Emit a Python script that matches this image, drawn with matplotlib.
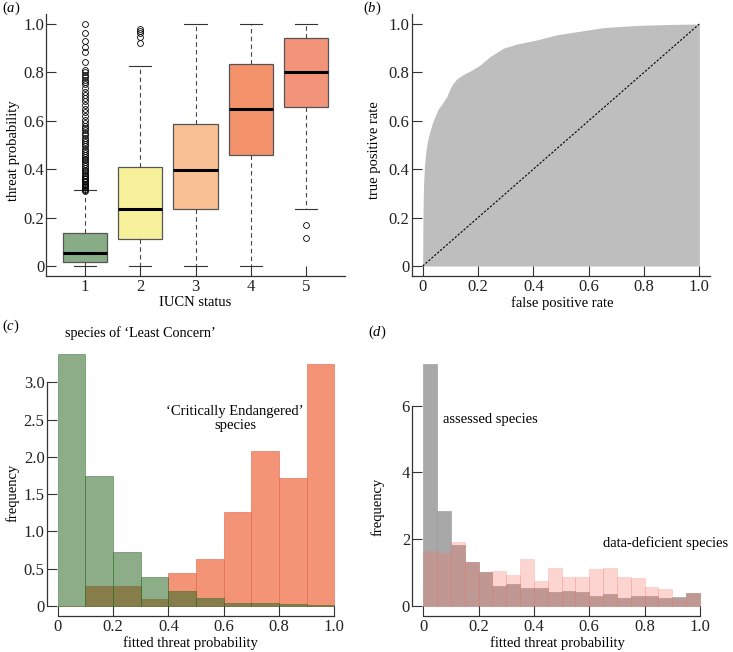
import matplotlib
matplotlib.use("Agg")
import matplotlib.pyplot as plt
import numpy as np

plt.rcParams['font.family'] = ['Liberation Serif', 'DejaVu Serif']
plt.rcParams['mathtext.fontset'] = 'custom'
plt.rcParams['mathtext.rm'] = 'Liberation Serif'
plt.rcParams['mathtext.it'] = 'Liberation Serif:italic'

# (a) boxplot summaries by IUCN status
status = [1, 2, 3, 4, 5]
q1 = [0.018, 0.112, 0.234, 0.460, 0.657]
med = [0.052, 0.234, 0.395, 0.649, 0.803]
q3 = [0.135, 0.408, 0.588, 0.835, 0.944]
whis_lo = [0.0, 0.0, 0.0, 0.0, 0.234]
whis_hi = [0.314, 0.825, 1.0, 1.0, 1.0]
fliers = [
    [0.312, 0.316, 0.320, 0.325, 0.330, 0.335, 0.340, 0.346, 0.352, 0.358,
     0.364, 0.370, 0.377, 0.384, 0.391, 0.398, 0.405, 0.412, 0.420, 0.428,
     0.436, 0.444, 0.452, 0.460, 0.468, 0.476, 0.485, 0.494, 0.503, 0.512,
     0.521, 0.530, 0.540, 0.550, 0.560, 0.570, 0.580, 0.590, 0.605, 0.620,
     0.635, 0.650, 0.665, 0.680, 0.695, 0.705, 0.720, 0.735, 0.750, 0.760,
     0.770, 0.780, 0.790, 0.800, 0.810, 0.844, 0.886, 0.906, 0.931, 0.961, 1.0],
    [0.920, 0.945, 0.964, 0.971, 0.978],
    [],
    [],
    [0.168, 0.114],
]
box_colors = ['#88ad86', '#f8f19c', '#f9c093', '#f2916a', '#f29479']

# (b) ROC curve
fpr = [0, 0.001, 0.003, 0.006, 0.010, 0.015, 0.020, 0.027, 0.035, 0.045,
       0.057, 0.070, 0.087, 0.100, 0.110, 0.125, 0.145, 0.171, 0.207, 0.243,
       0.292, 0.340, 0.412, 0.484, 0.557, 0.653, 0.773, 0.894, 1.0]
tpr = [0, 0.20, 0.33, 0.40, 0.46, 0.50, 0.53, 0.56, 0.59, 0.62,
       0.65, 0.67, 0.70, 0.735, 0.755, 0.775, 0.79, 0.805, 0.83, 0.865,
       0.90, 0.917, 0.934, 0.955, 0.968, 0.985, 0.994, 0.998, 1.0]

# (c) histograms, bin width 0.1
c_left = [0.0, 0.1, 0.2, 0.3, 0.4, 0.5, 0.6, 0.7, 0.8, 0.9]
least_concern = [3.375, 1.743, 0.724, 0.389, 0.201, 0.112, 0.040, 0.040, 0.022, 0.013]
crit_endangered = [0.0, 0.273, 0.273, 0.089, 0.447, 0.630, 1.265, 2.074, 1.717, 3.250]

# (d) histograms, bin width 0.05
d_left = [0.00, 0.05, 0.10, 0.15, 0.20, 0.25, 0.30, 0.35, 0.40, 0.45,
          0.50, 0.55, 0.60, 0.65, 0.70, 0.75, 0.80, 0.85, 0.90, 0.95]
assessed = [7.26, 2.835, 1.83, 1.33, 1.02, 0.59, 0.66, 0.55, 0.53, 0.42,
            0.45, 0.41, 0.29, 0.35, 0.24, 0.31, 0.30, 0.23, 0.26, 0.39]
deficient = [1.66, 1.60, 1.91, 1.31, 1.02, 1.04, 0.92, 1.41, 0.76, 1.13,
             0.88, 0.88, 1.12, 1.13, 0.87, 0.84, 0.58, 0.51, 0.21, 0.40]

W, H = 733, 652
fig = plt.figure(figsize=(W / 100, H / 100), dpi=100)


def add_ax(l, t, r, b):
    return fig.add_axes([l / W, 1 - b / H, (r - l) / W, (b - t) / H])


def style(ax):
    for s in ['top', 'right']:
        ax.spines[s].set_visible(False)
    for s in ['left', 'bottom']:
        ax.spines[s].set_color('#333333')
        ax.spines[s].set_linewidth(0.9)
    ax.tick_params(direction='in', length=7, width=0.8, color='#333333',
                   labelsize=12, labelcolor='#222222')
    ax.tick_params(axis='x', pad=2.5)
    ax.tick_params(axis='y', pad=1.5)


unit_ticks = [0, 0.2, 0.4, 0.6, 0.8, 1.0]
unit_labels = ['0', '0.2', '0.4', '0.6', '0.8', '1.0']
LS = 10.5

# ---- (a)
ax1 = add_ax(46.3, 14.3, 344.7, 275.7)
stats = []
for i in range(len(status)):
    stats.append(dict(med=med[i], q1=q1[i], q3=q3[i], whislo=whis_lo[i],
                      whishi=whis_hi[i], fliers=fliers[i]))
bp = ax1.bxp(stats, positions=status, widths=0.8, capwidths=0.4, patch_artist=True,
             boxprops=dict(edgecolor='#555555', linewidth=0.9),
             medianprops=dict(color='black', linewidth=2.2, solid_capstyle='butt'),
             whiskerprops=dict(color='#444444', linewidth=0.8, linestyle=(0, (4, 3))),
             capprops=dict(color='#333333', linewidth=0.8),
             flierprops=dict(marker='o', markerfacecolor='none', markeredgecolor='black',
                             markersize=4.2, markeredgewidth=0.6))
for patch, c in zip(bp['boxes'], box_colors):
    patch.set_facecolor(c)
ax1.set_xlim(0.3, 5.7)
ax1.set_ylim(-0.04, 1.04)
style(ax1)
ax1.set_xticks(status, [str(s) for s in status])
ax1.set_yticks(unit_ticks, unit_labels)
ax1.set_xlabel('IUCN status', fontsize=LS)
ax1.set_ylabel('threat probability', fontsize=LS)
ax1.xaxis.set_label_coords(0.5, -0.078)
ax1.yaxis.set_label_coords(-0.088, 0.48)

# ---- (b)
ax2 = add_ax(411.6, 14.3, 710.4, 275.7)
ax2.fill_between(fpr, tpr, 0, color='#bebebe', linewidth=0)
ax2.plot([0, 1], [0, 1], color='black', linewidth=0.8, linestyle=(0, (2, 1.5)))
ax2.set_xlim(-0.04, 1.04)
ax2.set_ylim(-0.04, 1.04)
style(ax2)
ax2.set_xticks(unit_ticks, unit_labels)
ax2.set_yticks(unit_ticks, unit_labels)
ax2.set_xlabel('false positive rate', fontsize=LS)
ax2.set_ylabel('true positive rate', fontsize=LS)
ax2.xaxis.set_label_coords(0.503, -0.078)
ax2.yaxis.set_label_coords(-0.102, 0.48)

# ---- (c)
ax3 = add_ax(46.6, 344.6, 345.4, 616)
red = (0.957, 0.580, 0.467, 1.0)
green = (0.18, 0.42, 0.15, 0.55)
ax3.bar(c_left, crit_endangered, width=0.1, align='edge', color=red,
        edgecolor=(0.85, 0.35, 0.25, 0.6), linewidth=0.6)
ax3.bar(c_left, least_concern, width=0.1, align='edge', color=green,
        edgecolor=green, linewidth=0.6)
ax3.set_xlim(-0.04, 1.04)
ax3.set_ylim(-0.135, 3.505)
style(ax3)
ax3.spines['left'].set_bounds(0, 3)
ax3.spines['bottom'].set_bounds(0, 1)
ax3.set_xticks(unit_ticks, unit_labels)
ax3.set_yticks([0, 0.5, 1.0, 1.5, 2.0, 2.5, 3.0],
               ['0', '0.5', '1.0', '1.5', '2.0', '2.5', '3.0'])
ax3.set_xlabel('fitted threat probability', fontsize=LS)
ax3.set_ylabel('frequency', fontsize=LS)
ax3.xaxis.set_label_coords(0.48, -0.074)
ax3.yaxis.set_label_coords(-0.092, 0.453)
ax3.text(0.026, 3.66, 'species of \u2018Least Concern\u2019', fontsize=10.2,
         ha='left', va='center')
ax3.text(0.641, 2.52, '\u2018Critically Endangered\u2019\nspecies', fontsize=LS,
         ha='center', va='center', multialignment='center', linespacing=1.1)

# ---- (d)
ax4 = add_ax(412.2, 354, 711, 615.7)
gray = (0.60, 0.60, 0.60, 0.85)
pink = (0.97, 0.46, 0.41, 0.30)
ax4.bar(d_left, assessed, width=0.05, align='edge', color=gray,
        edgecolor=gray, linewidth=0.5)
ax4.bar(d_left, deficient, width=0.05, align='edge', color=pink,
        edgecolor=pink, linewidth=0.5)
ax4.set_xlim(-0.04, 1.04)
ax4.set_ylim(-0.29, 7.55)
style(ax4)
ax4.spines['left'].set_bounds(0, 6)
ax4.spines['bottom'].set_bounds(0, 1)
ax4.set_xticks(unit_ticks, unit_labels)
ax4.set_yticks([0, 2, 4, 6], ['0', '2', '4', '6'])
ax4.set_xlabel('fitted threat probability', fontsize=LS)
ax4.set_ylabel('frequency', fontsize=LS)
ax4.xaxis.set_label_coords(0.485, -0.078)
ax4.yaxis.set_label_coords(-0.094, 0.415)
ax4.text(0.07, 5.6, 'assessed species', fontsize=LS, ha='left', va='center')
ax4.text(0.649, 1.89, 'data-deficient species', fontsize=LS, ha='left', va='center')

# panel letters
for x, y, s in [(2, 8, 'a'), (363, 8, 'b'), (2, 326, 'c'), (368, 332, 'd')]:
    fig.text(x / W, 1 - y / H, '($' + s + '$)', fontsize=10.5, ha='left', va='center')

fig.savefig('out.png', dpi=100)
